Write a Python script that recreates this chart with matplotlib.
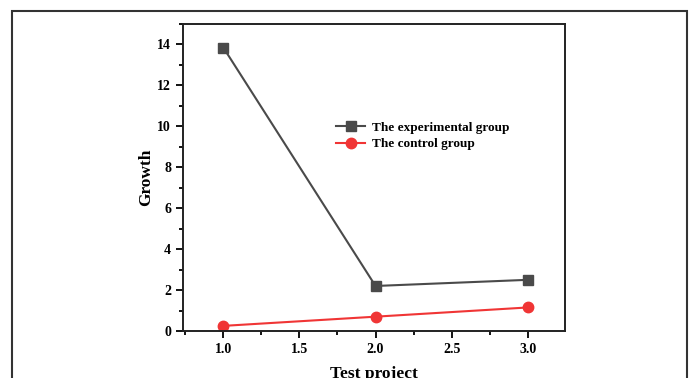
import numpy as np
import matplotlib.pyplot as plt
from matplotlib.patches import Rectangle
from matplotlib.ticker import MultipleLocator

# Data
test_project = [1.0, 2.0, 3.0]
experimental = [13.85, 2.2, 2.5]
control = [0.25, 0.7, 1.15]

plt.rcParams['font.family'] = 'Liberation Serif'
plt.rcParams['font.weight'] = 'bold'

W, H = 691, 378
fig = plt.figure(figsize=(W / 100, H / 100), dpi=100)

# outer frame around the figure (bottom edge lies outside the image)
fig.patches.append(Rectangle((12 / W, -0.05), (687 - 12) / W, 1.05 - 11 / H,
                             transform=fig.transFigure, fill=False,
                             edgecolor='#333333', linewidth=1.5))

ax = fig.add_axes([183 / W, 1 - 331 / H, (565 - 183) / W, (331 - 24) / H])

ax.plot(test_project, experimental, color='#4a4a4a', marker='s', markersize=7,
        linewidth=1.5, label='The experimental group')
ax.plot(test_project, control, color='#f03535', marker='o', markersize=7.5,
        linewidth=1.5, label='The control group')

ax.set_xlim(0.735, 3.245)
ax.set_ylim(0, 15)
ax.xaxis.set_major_locator(MultipleLocator(0.5))
ax.xaxis.set_minor_locator(MultipleLocator(0.25))
ax.yaxis.set_major_locator(MultipleLocator(2))
ax.yaxis.set_minor_locator(MultipleLocator(1))
ax.xaxis.set_major_formatter(plt.FormatStrFormatter('%.1f'))

ax.tick_params(which='major', direction='out', length=5, width=1.3, labelsize=10)
ax.tick_params(which='minor', direction='out', length=3, width=1.3)
for s in ax.spines.values():
    s.set_linewidth(1.4)
    s.set_color('#222222')

ax.set_xlabel('Test project', fontsize=12.5, fontweight='bold', labelpad=7)
ax.set_ylabel('Growth', fontsize=12.5, fontweight='bold', labelpad=2)

ax.legend(loc='upper left', bbox_to_anchor=(0.37, 0.72), frameon=False,
          handlelength=2.2, handletextpad=0.5, labelspacing=0.3,
          prop={'weight': 'bold', 'size': 9.5})

fig.savefig('out.png', dpi=100)
